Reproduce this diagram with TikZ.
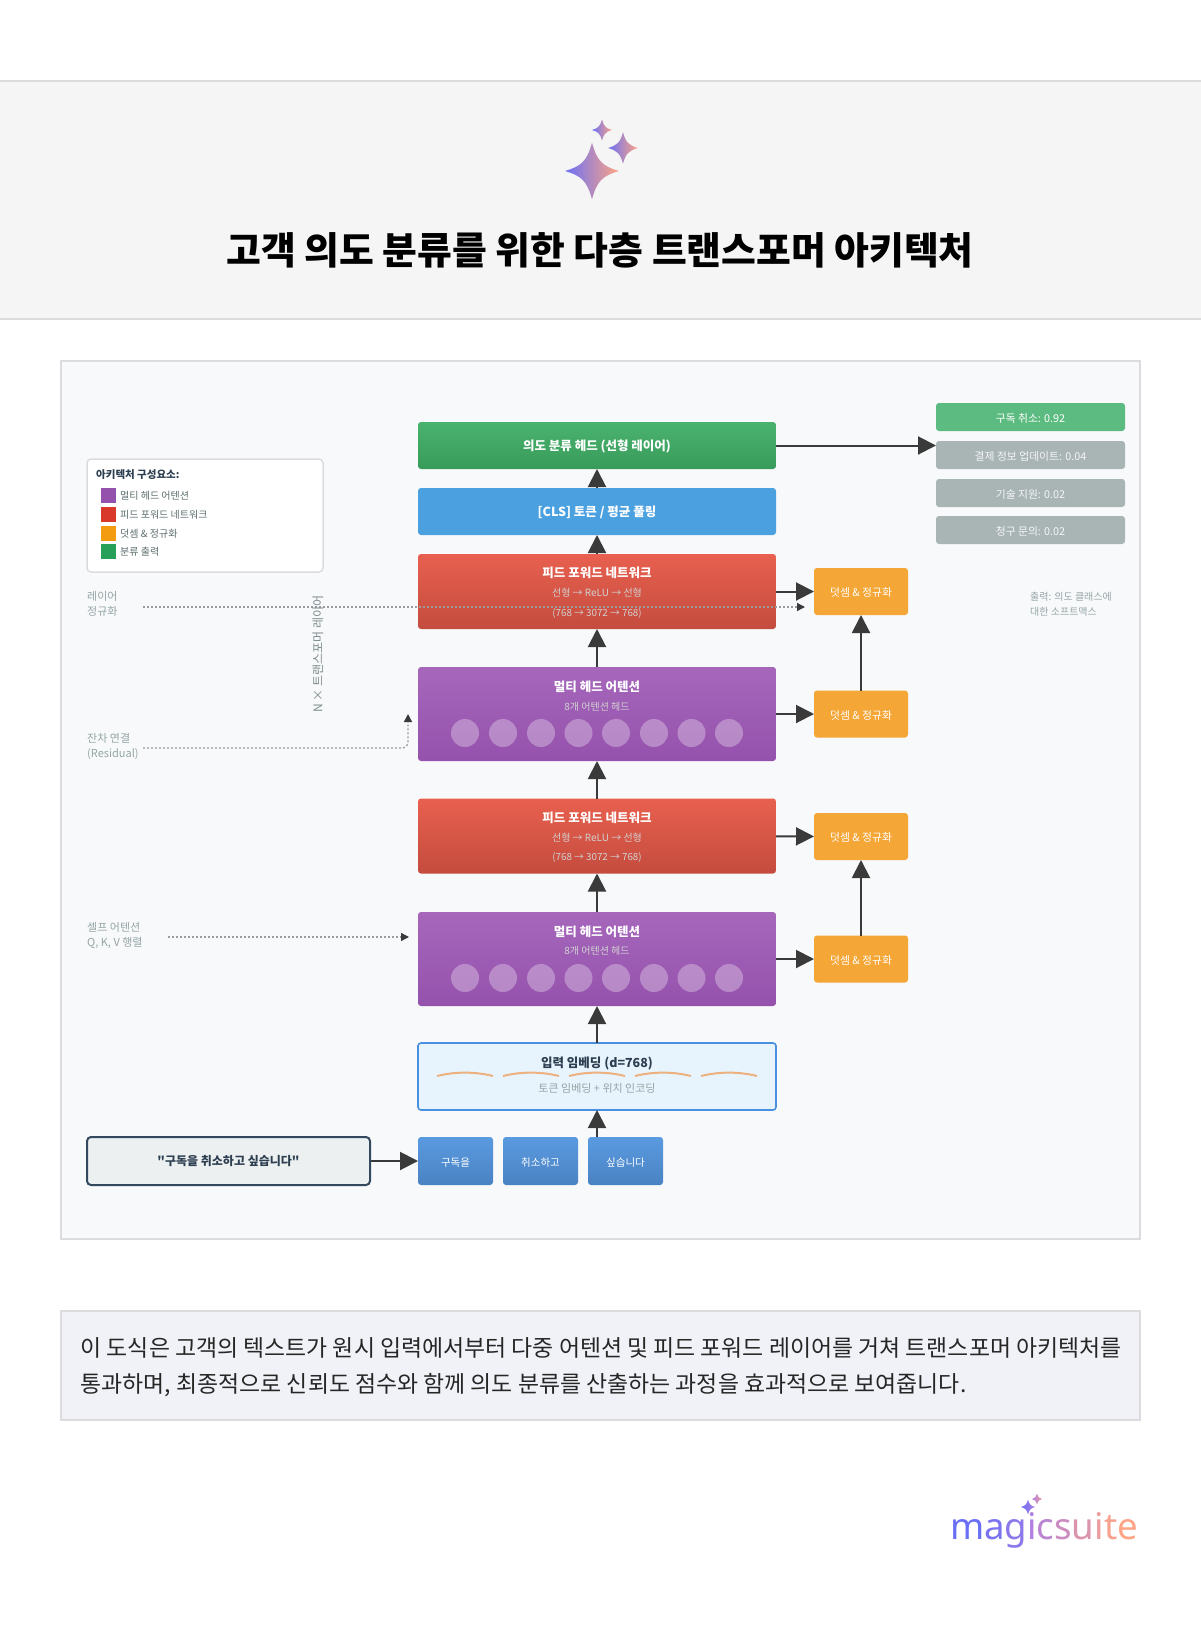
\documentclass[tikz,border=0pt]{standalone}
\usepackage{fontspec}
\setmainfont{Noto Sans CJK KR}
\newfontfamily\quotefont{Noto Sans CJK KR}
\newfontfamily\logofont{Noto Sans}
\usetikzlibrary{arrows.meta}
\newcommand{\fsz}[1]{\fontsize{#1}{#1}\selectfont}
\newcommand{\sparkle}[3]{%
  (#1,#2-#3*1.05) .. controls (#1+#3*.18,#2-#3*.38) and (#1+#3*.38,#2-#3*.18) .. (#1+#3,#2)
  .. controls (#1+#3*.38,#2+#3*.18) and (#1+#3*.18,#2+#3*.38) .. (#1,#2+#3*1.05)
  .. controls (#1-#3*.18,#2+#3*.38) and (#1-#3*.38,#2+#3*.18) .. (#1-#3,#2)
  .. controls (#1-#3*.38,#2-#3*.18) and (#1-#3*.18,#2-#3*.38) .. (#1,#2-#3*1.05) -- cycle}
\definecolor{bandfill}{HTML}{F5F5F6}
\definecolor{bandline}{HTML}{DCDCDE}
\definecolor{panelfill}{HTML}{F8F9FA}
\definecolor{notefill}{HTML}{F1F2F7}
\definecolor{headtop}{HTML}{4AB26F}
\definecolor{headbot}{HTML}{389B5A}
\definecolor{poolfill}{HTML}{4BA0E0}
\definecolor{ffntop}{HTML}{E8604F}
\definecolor{ffnbot}{HTML}{C44C3E}
\definecolor{attntop}{HTML}{A667BB}
\definecolor{attnbot}{HTML}{9552AD}
\definecolor{toktop}{HTML}{5A9AE0}
\definecolor{tokbot}{HTML}{4A82C2}
\definecolor{addfill}{HTML}{F4A636}
\definecolor{outgreen}{HTML}{5CBB80}
\definecolor{outgray}{HTML}{A9B5B5}
\definecolor{embfill}{HTML}{E8F4FD}
\definecolor{embline}{HTML}{4A90E2}
\definecolor{inputfill}{HTML}{ECF0F1}
\definecolor{inputline}{HTML}{34495E}
\definecolor{wavecol}{HTML}{EDB07F}
\definecolor{inkdark}{HTML}{2C3E50}
\definecolor{inkgray}{HTML}{95A5A6}
\definecolor{inklegend}{HTML}{5D6D6E}
\definecolor{arrowcol}{HTML}{3A3A3A}
\definecolor{dotcol}{HTML}{999DA0}
\definecolor{swatred}{HTML}{D8392B}
\definecolor{swatorange}{HTML}{F39C12}
\definecolor{swatgreen}{HTML}{27A05A}
\definecolor{sparkA}{HTML}{6A70F5}
\definecolor{sparkB}{HTML}{B07FE0}
\definecolor{sparkC}{HTML}{FFA585}
\tikzset{
  box/.style={rectangle, rounded corners=3pt, inner sep=0pt, outer sep=0pt, minimum width=358pt, text=white},
  headbox/.style={box, minimum height=47pt, top color=headtop, bottom color=headbot},
  poolbox/.style={box, minimum height=47pt, fill=poolfill},
  ffnbox/.style={box, minimum height=75pt, top color=ffntop, bottom color=ffnbot},
  attnbox/.style={box, minimum height=94pt, top color=attntop, bottom color=attnbot},
  embbox/.style={box, minimum height=67pt, fill=embfill, draw=embline, line width=1.6pt},
  tokbox/.style={box, minimum width=75pt, minimum height=48pt, top color=toktop, bottom color=tokbot, font=\fsz{10.5}, text height=12pt, text depth=2pt},
  addbox/.style={box, minimum width=94pt, minimum height=47pt, fill=addfill, font=\fsz{10.8}, text height=12pt, text depth=2pt},
  outbox/.style={box, minimum width=189pt, minimum height=28pt, fill=outgray, text=white!88!outgray, font=\fsz{10.8}, text height=12.5pt, text depth=2pt},
  boxtitle/.style={inner sep=0pt, yshift=-1pt, text=white, font=\fsz{12.5}\bfseries},
  boxsub/.style={inner sep=0pt, yshift=-1pt, text=white!82!black, font=\fsz{10}},
  swatch/.style={rectangle, inner sep=0pt, minimum size=15pt},
  legendtext/.style={anchor=west, inner sep=0pt, yshift=-.5pt, text=inklegend, font=\fsz{10}},
  sidenote/.style={anchor=west, align=left, inner sep=0pt, text=inkgray, font=\fontsize{11}{15}\selectfont},
  arrow/.style={draw=arrowcol, line width=2pt, -{Triangle[length=18pt,width=18pt]}},
  dotarrow/.style={draw=dotcol, line width=1.3pt, dash pattern=on 2pt off 2pt, -{Triangle[length=8pt,width=8pt,color=arrowcol]}},
  spark/.style={left color=sparkA, middle color=sparkB, right color=sparkC, draw=none},
  wave/.style={draw=wavecol, line width=2pt},
}
\begin{document}
\begin{tikzpicture}[x=1pt,y=-1pt]
  \useasboundingbox (-1,0) rectangle (1199,1632);
  \fill[white] (-1,0) rectangle (1199,1632);

  % header band
  \draw[draw=bandline, fill=bandfill, line width=1.5pt] (-3,81) rectangle (1202,319);
  \shade[spark] \sparkle{591}{171}{27};
  \shade[spark] \sparkle{622}{148}{15};
  \shade[spark] \sparkle{601}{130}{10};
  \draw (599,250) node[inner sep=0pt, text=black, font=\fsz{37.8}\bfseries] (title) {고객 의도 분류를 위한 다층 트랜스포머 아키텍처};

  % panel
  \draw[draw=bandline, fill=panelfill, line width=1.5pt] (60,361) rectangle (1139,1239);

  % legend
  \draw (204,515.5) node[rectangle, rounded corners=4pt, draw=bandline, line width=1.5pt, fill=white, minimum width=236pt, minimum height=113pt, inner sep=0pt] (legend) {};
  \draw (95,475) node[anchor=west, inner sep=0pt, text=inkdark, font=\fsz{10.5}\bfseries] (legendhead) {아키텍처 구성요소:};
  \draw (107.5,495) node[swatch, fill=attnbot] (swatA) {};
  \draw (107.5,514) node[swatch, fill=swatred] (swatB) {};
  \draw (107.5,533) node[swatch, fill=swatorange] (swatC) {};
  \draw (107.5,551.5) node[swatch, fill=swatgreen] (swatD) {};
  \draw (119,495) node[legendtext] (legA) {멀티 헤드 어텐션};
  \draw (119,514) node[legendtext] (legB) {피드 포워드 네트워크};
  \draw (119,533) node[legendtext] (legC) {덧셈 \& 정규화};
  \draw (119,551.5) node[legendtext] (legD) {분류 출력};

  % main stack
  \draw (596,445.5) node[headbox] (head) {};
  \draw (596,445.5) node[boxtitle] (headtext) {의도 분류 헤드 (선형 레이어)};
  \draw (596,511.5) node[poolbox] (pool) {};
  \draw (596,511.5) node[boxtitle] (pooltext) {[CLS] 토큰 / 평균 풀링};
  \draw (596,591.5) node[ffnbox] (ffnB) {};
  \draw (596,714) node[attnbox] (attnB) {};
  \draw (596,836) node[ffnbox] (ffnA) {};
  \draw (596,959) node[attnbox] (attnA) {};
  \draw (596,1076.5) node[embbox] (embed) {};
  \draw (596,1063) node[inner sep=0pt, text=inkdark, font=\fsz{12.5}\bfseries] (embedtext) {입력 임베딩 (d=768)};
  \draw (596,1087) node[inner sep=0pt, yshift=-1pt, text=inkgray, font=\fsz{11}] (embedsub) {토큰 임베딩 + 위치 인코딩};
  \foreach \wx in {436,502,568,634,700}
    \draw[wave] (\wx,1076) .. controls (\wx+18,1071.5) and (\wx+38,1071.5) .. (\wx+56,1076);

  % dotted side links, the long one runs over the red box
  \coordinate (normA) at (142,607);
  \coordinate (normB) at (804,607);
  \coordinate (residA) at (142,748);
  \coordinate (residB) at (407,714);
  \coordinate (selfA) at (167,937);
  \coordinate (selfB) at (408,937);
  \draw[dotarrow] (normA) -- (normB);
  \draw[dotarrow, rounded corners=6pt] (residA) -| (residB);
  \draw[dotarrow] (selfA) -- (selfB);

  \draw (596,572) node[boxtitle] (ffnBtitle) {피드 포워드 네트워크};
  \draw (596,592) node[boxsub] (ffnBsub) {선형 → ReLU → 선형};
  \draw (596,612) node[boxsub, font=\fsz{9.8}] (ffnBdim) {(768 → 3072 → 768)};
  \draw (596,686) node[boxtitle] (attnBtitle) {멀티 헤드 어텐션};
  \draw (596,706) node[boxsub] (attnBsub) {8개 어텐션 헤드};
  \draw (596,817) node[boxtitle] (ffnAtitle) {피드 포워드 네트워크};
  \draw (596,837) node[boxsub] (ffnAsub) {선형 → ReLU → 선형};
  \draw (596,856) node[boxsub, font=\fsz{9.8}] (ffnAdim) {(768 → 3072 → 768)};
  \draw (596,931) node[boxtitle] (attnAtitle) {멀티 헤드 어텐션};
  \draw (596,950) node[boxsub] (attnAsub) {8개 어텐션 헤드};
  \foreach \cx in {464,502,540,577.5,615,653,690.5,728} {
    \fill[white, opacity=.3] (\cx,733) circle (14);
    \fill[white, opacity=.3] (\cx,978) circle (14);
  }

  % tokens and input
  \draw (227.5,1161) node[rectangle, rounded corners=4pt, draw=inputline, line width=2pt, fill=inputfill, minimum width=283pt, minimum height=48pt, inner sep=0pt, text=inkdark, font=\quotefont\fsz{12}\bfseries] (input) {"구독을 취소하고 싶습니다"};
  \draw (454.5,1161) node[tokbox] (tokA) {구독을};
  \draw (539.5,1161) node[tokbox] (tokB) {취소하고};
  \draw (624.5,1161) node[tokbox] (tokC) {싶습니다};

  % add and norm
  \draw (860,591.5) node[addbox] (addD) {덧셈 \& 정규화};
  \draw (860,714) node[addbox] (addC) {덧셈 \& 정규화};
  \draw (860,836.5) node[addbox] (addB) {덧셈 \& 정규화};
  \draw (860,959) node[addbox] (addA) {덧셈 \& 정규화};

  % outputs
  \draw (1029.5,417) node[outbox, fill=outgreen, text=white] (outA) {구독 취소: 0.92};
  \draw (1029.5,455) node[outbox] (outB) {결제 정보 업데이트: 0.04};
  \draw (1029.5,493) node[outbox] (outC) {기술 지원: 0.02};
  \draw (1029.5,530) node[outbox] (outD) {청구 문의: 0.02};

  % notes
  \draw (86,604) node[sidenote] (normnote) {레이어\\정규화};
  \draw (86,746.5) node[sidenote] (residnote) {잔차 연결\\(Residual)};
  \draw (86,935) node[sidenote] (selfnote) {셀프 어텐션\\Q, K, V 행렬};
  \draw (1029,604) node[sidenote, font=\fontsize{10}{15}\selectfont] (outnote) {출력: 의도 클래스에\\대한 소프트맥스};
  \draw (317,654) node[rotate=90, inner sep=0pt, text=inkgray!85!black, font=\fsz{12}] (nlayers) {N × 트랜스포머 레이어};

  % arrows
  \draw[arrow] (input) -- (tokA);
  \draw[arrow] (embed.south |- tokC.north) -- (embed);
  \draw[arrow] (embed) -- (attnA);
  \draw[arrow] (attnA) -- (ffnA);
  \draw[arrow] (ffnA) -- (attnB);
  \draw[arrow] (attnB) -- (ffnB);
  \draw[arrow] (ffnB) -- (pool);
  \draw[arrow] (pool) -- (head);
  \draw[arrow] (head) -- (head -| outB.west);
  \draw[arrow] (ffnB) -- (addD);
  \draw[arrow] (attnB) -- (addC);
  \draw[arrow] (ffnA) -- (addB);
  \draw[arrow] (attnA) -- (addA);
  \draw[arrow] (addC) -- (addD);
  \draw[arrow] (addA) -- (addB);

  % caption
  \draw[draw=bandline, fill=notefill, line width=1.5pt] (60,1311) rectangle (1139,1420);
  \draw (79.5,1367) node[anchor=west, align=left, inner sep=0pt, text=black!85, font=\fontsize{22.9}{36}\selectfont] (caption) {이 도식은 고객의 텍스트가 원시 입력에서부터 다중 어텐션 및 피드 포워드 레이어를 거쳐 트랜스포머 아키텍처를\\통과하며, 최종적으로 신뢰도 점수와 함께 의도 분류를 산출하는 과정을 효과적으로 보여줍니다.};

  % logo
  \shade[left color=sparkA, right color=sparkB, draw=none] \sparkle{1027}{1507}{7};
  \shade[left color=sparkB, right color=sparkC!70!sparkB, draw=none] \sparkle{1036}{1499}{5};
  \draw (1043,1539) node[anchor=base, inner sep=0pt, font=\logofont\fsz{36.6}] (logo) {\textcolor{sparkA}{m}\textcolor{sparkA!75!sparkB}{a}\textcolor{sparkA!50!sparkB}{g}\textcolor{sparkB}{i}\textcolor{sparkB!85!sparkC}{c}\textcolor{sparkB!65!sparkC}{s}\textcolor{sparkB!45!sparkC}{u}\textcolor{sparkB!25!sparkC}{i}\textcolor{sparkB!10!sparkC}{t}\textcolor{sparkC}{e}};
\end{tikzpicture}
\end{document}
